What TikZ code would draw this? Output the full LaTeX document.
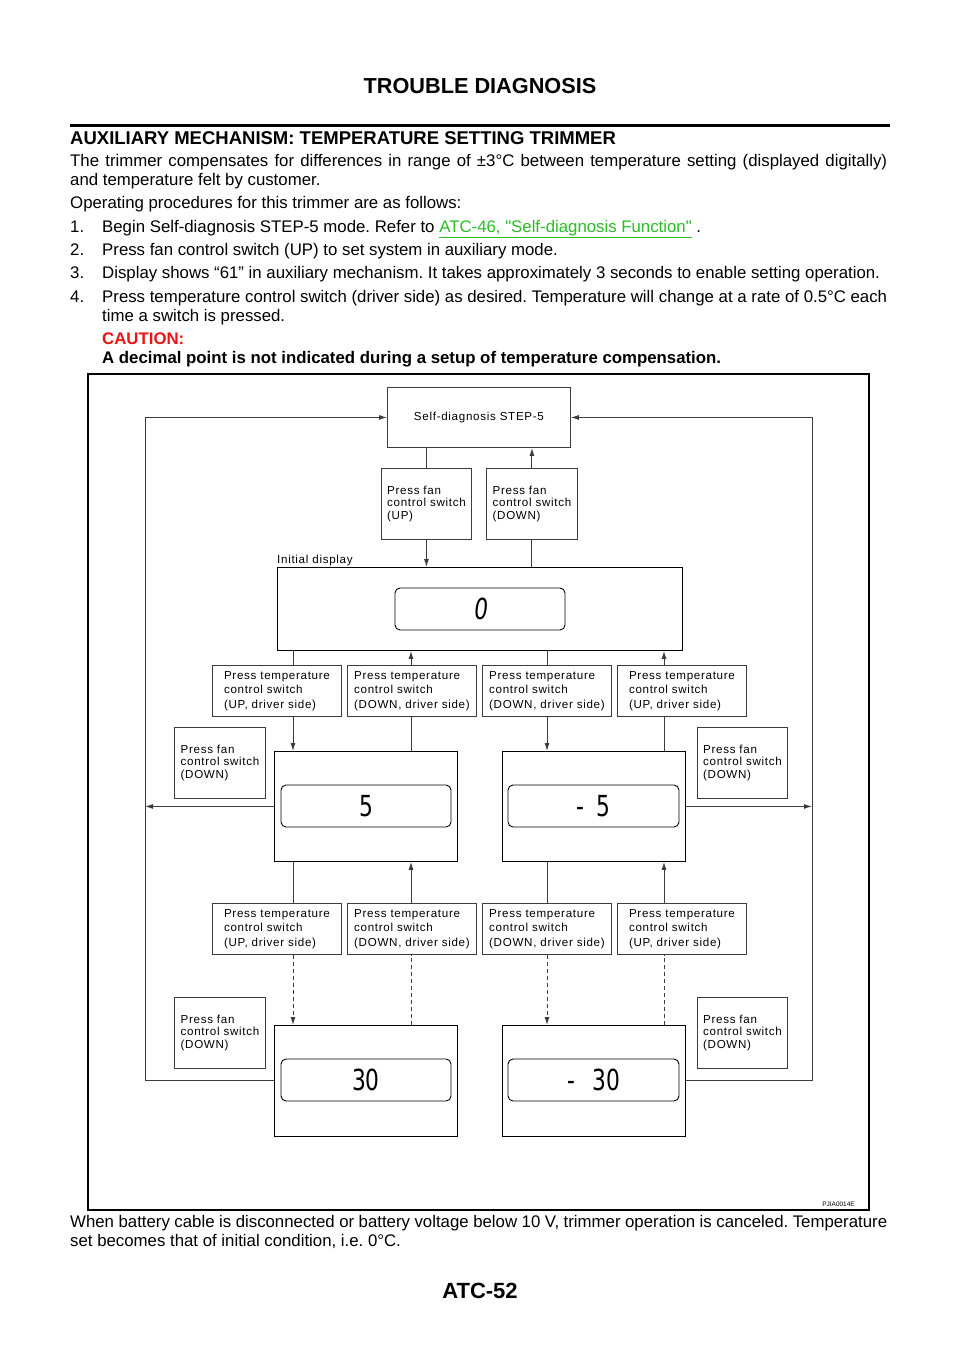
\documentclass[tikz,border=0pt]{standalone}
\usepackage{fontspec}
\setmainfont{Liberation Sans}
\newfontfamily\rawfont[Ligatures=TeXOff]{Liberation Sans}
\newfontfamily\dgfont[LetterSpace=6]{Liberation Sans}
\newfontfamily\segfont[FakeStretch=0.75]{DejaVu Sans}
\usetikzlibrary{arrows.meta}
\definecolor{linkgreen}{RGB}{40,190,40}
\definecolor{cautred}{RGB}{235,20,20}
\definecolor{boxgray}{RGB}{60,60,60}
\newcommand{\sq}{{\rawfont"}}
\tikzset{
 txt/.style={inner sep=0pt, anchor=base west, font=\fontsize{16.8}{19}\selectfont},
 dg/.style={font=\dgfont\fontsize{11.6}{12.5}\selectfont},
 fanbox/.style={draw=boxgray, line width=0.9pt, dg, align=left, minimum width=91pt, minimum height=71pt, inner sep=0pt, anchor=north west},
 tempbox/.style={draw=boxgray, line width=0.9pt, font=\dgfont\fontsize{11.6}{14.4}\selectfont, align=left, minimum width=129pt, minimum height=51pt, inner sep=0pt, anchor=north west},
 dispbox/.style={draw=black, line width=0.9pt, minimum width=183pt, minimum height=110pt, inner sep=0pt, anchor=north west},
 screen/.style={draw=black, line width=0.9pt, rounded corners=5pt, minimum width=170pt, minimum height=42pt, inner sep=0pt, font=\segfont\fontsize{29}{29}\selectfont},
 conn/.style={draw=boxgray, line width=1pt},
 arr/.style={conn, -{Latex[length=8pt,width=5pt]}},
 dsh/.style={dash pattern=on 4pt off 3pt},
}
\begin{document}
\frenchspacing
\begin{tikzpicture}[x=1pt,y=-1pt]
\useasboundingbox[fill=white] (0,0) rectangle (960,1358);
% header
\node[inner sep=0pt, anchor=base, font=\bfseries\fontsize{21.7}{24}\selectfont] (title) at (480,93) {TROUBLE DIAGNOSIS};
\draw[line width=3pt] (70,125) -- (890,125);
\node[txt, font=\bfseries\fontsize{18.5}{21}\selectfont] (head) at (70,144) {AUXILIARY MECHANISM: TEMPERATURE SETTING TRIMMER};
\node[txt] (l1) at (70,166) {\makebox[817pt][s]{The trimmer compensates for differences in range of ±3°C between temperature setting (displayed digitally)}};
\node[txt] (l2) at (70,185) {and temperature felt by customer.};
\node[txt] (l3) at (70,208) {Operating procedures for this trimmer are as follows:};
\node[txt] (n1) at (70,232) {1.};
\node[txt] (s1) at (102,232) {Begin Self-diagnosis STEP-5 mode. Refer to \textcolor{linkgreen}{\underline{ATC-46, \sq Self-diagnosis Function\sq}} .};
\node[txt] (n2) at (70,255) {2.};
\node[txt] (s2) at (102,255) {Press fan control switch (UP) to set system in auxiliary mode.};
\node[txt] (n3) at (70,278) {3.};
\node[txt] (s3) at (102,278) {Display shows “61” in auxiliary mechanism. It takes approximately 3 seconds to enable setting operation.};
\node[txt] (n4) at (70,302) {4.};
\node[txt] (s4) at (102,302) {\makebox[785pt][s]{Press temperature control switch (driver side) as desired. Temperature will change at a rate of 0.5°C each}};
\node[txt] (s4b) at (102,321) {time a switch is pressed.};
\node[txt, font=\bfseries\fontsize{16.8}{19}\selectfont, text=cautred] (caut) at (102,344) {CAUTION:};
\node[txt, font=\bfseries\fontsize{16.8}{19}\selectfont] (cautt) at (102,363) {A decimal point is not indicated during a setup of temperature compensation.};
% frame
\draw[line width=1.5pt] (88,374) rectangle (869,1210);
\node[inner sep=0pt, anchor=base east, font=\fontsize{6.5}{7}\selectfont] (code) at (855,1206) {PJIA0014E};
% boxes
\node[draw=boxgray, line width=0.9pt, dg, minimum width=183pt, minimum height=60pt, inner sep=0pt, anchor=north west] (stepfive) at (387,387) {Self-diagnosis STEP-5};
\node[fanbox, minimum width=90pt] (fanup) at (381,468) {Press fan\\control switch\\(UP)};
\node[fanbox] (fandown) at (486,468) {Press fan\\control switch\\(DOWN)};
\node[inner sep=0pt, anchor=base west, dg] (initlab) at (277,563) {Initial display};
\node[dispbox, minimum width=405pt, minimum height=83pt] (init) at (277,567) {};
\node[screen, font=\segfont\fontsize{29}{29}\selectfont\addfontfeature{FakeSlant=0.12}] (scr0) at (480,609) {0};
\node[tempbox] (tA1) at (212,665) {Press temperature\\control switch\\(UP, driver side)};
\node[tempbox] (tB1) at (347,665) {Press temperature\\control switch\\(DOWN, driver side)};
\node[tempbox] (tC1) at (482,665) {Press temperature\\control switch\\(DOWN, driver side)};
\node[tempbox] (tD1) at (617,665) {Press temperature\\control switch\\(UP, driver side)};
\node[fanbox] (fanL1) at (174,727) {Press fan\\control switch\\(DOWN)};
\node[fanbox, minimum width=90pt] (fanR1) at (697,727) {Press fan\\control switch\\(DOWN)};
\node[dispbox] (dfive) at (274,751) {};
\node[screen] (scr5) at (366,806) {5};
\node[dispbox] (dmfive) at (502,751) {};
\node[screen, minimum width=171pt] (scrm5) at (593.5,806) {-\hspace{12.2pt}5\hspace{19pt}};
\node[tempbox] (tA2) at (212,903) {Press temperature\\control switch\\(UP, driver side)};
\node[tempbox] (tB2) at (347,903) {Press temperature\\control switch\\(DOWN, driver side)};
\node[tempbox] (tC2) at (482,903) {Press temperature\\control switch\\(DOWN, driver side)};
\node[tempbox] (tD2) at (617,903) {Press temperature\\control switch\\(UP, driver side)};
\node[fanbox] (fanL2) at (174,997) {Press fan\\control switch\\(DOWN)};
\node[fanbox, minimum width=90pt] (fanR2) at (697,997) {Press fan\\control switch\\(DOWN)};
\node[dispbox, minimum height=111pt] (dthirty) at (274,1025) {};
\node[screen] (scr30) at (366,1080) {30};
\node[dispbox, minimum height=111pt] (dmthirty) at (502,1025) {};
\node[screen, minimum width=171pt] (scrm30) at (593.5,1080) {-\hspace{17.3pt}30};
% guide coordinates
\coordinate (xa) at (293,0);
\coordinate (xb) at (411,0);
\coordinate (xc) at (547,0);
\coordinate (xd) at (664,0);
\coordinate (L) at (145,0);
\coordinate (R) at (812,0);
% top connectors
\draw[conn] (fanup.north) -- (fanup.north |- stepfive.south);
\draw[arr] (fanup.south) -- (fanup.south |- init.north);
\draw[conn] (init.north -| fandown.south) -- (fandown.south);
\draw[arr] (fandown.north) -- (fandown.north |- stepfive.south);
% row 1
\draw[conn] (init.south -| xa) -- (tA1.north -| xa);
\draw[arr] (tA1.south -| xa) -- (dfive.north -| xa);
\draw[arr] (tB1.north -| xb) -- (init.south -| xb);
\draw[conn] (dfive.north -| xb) -- (tB1.south -| xb);
\draw[conn] (init.south -| xc) -- (tC1.north -| xc);
\draw[arr] (tC1.south -| xc) -- (dmfive.north -| xc);
\draw[arr] (tD1.north -| xd) -- (init.south -| xd);
\draw[conn] (dmfive.north -| xd) -- (tD1.south -| xd);
% row 2
\draw[conn] (dfive.south -| xa) -- (tA2.north -| xa);
\draw[arr, dsh] (tA2.south -| xa) -- (dthirty.north -| xa);
\draw[arr] (tB2.north -| xb) -- (dfive.south -| xb);
\draw[conn, dsh] (dthirty.north -| xb) -- (tB2.south -| xb);
\draw[conn] (dmfive.south -| xc) -- (tC2.north -| xc);
\draw[arr, dsh] (tC2.south -| xc) -- (dmthirty.north -| xc);
\draw[arr] (tD2.north -| xd) -- (dmfive.south -| xd);
\draw[conn, dsh] (dmthirty.north -| xd) -- (tD2.south -| xd);
% loops
\draw[arr] (dfive.west) -- (dfive.west -| L);
\draw[arr] (dthirty.west) -- (dthirty.west -| L) -- (stepfive.west -| L) -- (stepfive.west);
\draw[arr] (dmfive.east) -- (dmfive.east -| R);
\draw[arr] (dmthirty.east) -- (dmthirty.east -| R) -- (stepfive.east -| R) -- (stepfive.east);
% footer
\node[txt] (f1) at (70,1227) {\makebox[817pt][s]{When battery cable is disconnected or battery voltage below 10 V, trimmer operation is canceled. Temperature}};
\node[txt] (f2) at (70,1246) {set becomes that of initial condition, i.e. 0°C.};
\node[inner sep=0pt, anchor=base, font=\bfseries\fontsize{22}{24}\selectfont] (page) at (480,1298) {ATC-52};
\end{tikzpicture}
\end{document}
